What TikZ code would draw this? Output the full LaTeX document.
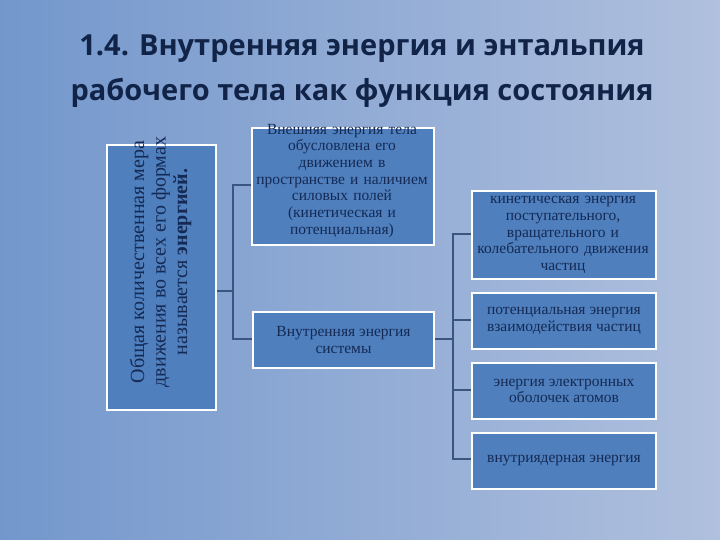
\documentclass[tikz,border=0pt]{standalone}
\usepackage{fontspec}
\setmainfont{Liberation Serif}
\newfontfamily\titlefont{Open Sans}
\begin{document}
\begin{tikzpicture}[x=1pt,y=-1pt,
  box/.style={draw=white,line width=2pt,fill=boxblue,text=txtblue,align=center,inner sep=1pt,font=\fontsize{15.5}{16.7}\selectfont},
  conn/.style={draw=lineblue,line width=1.3pt}]
\definecolor{boxblue}{HTML}{4F7FBD}
\definecolor{txtblue}{HTML}{142A55}
\definecolor{lineblue}{HTML}{3A5580}
\definecolor{bgl}{HTML}{7397CC}
\definecolor{bgr}{HTML}{B0C0DE}
\useasboundingbox (0,0) rectangle (720,540);
\shade[left color=bgl,right color=bgr] (0,0) rectangle (720,540);
\node[font=\titlefont\bfseries\fontsize{29}{45}\selectfont,text=txtblue!85!black,align=center] (title) at (362,71) {1.4. Внутренняя энергия и энтальпия\\рабочего тела как функция состояния};
\node[box,minimum width=109pt,minimum height=265pt,anchor=north west] (L) at (106,144) {};
\node[rotate=90,text=txtblue,align=center,font=\fontsize{20}{21.5}\selectfont] (Lt) at (160.5,262) {Общая количественная мера\\движения во всех его формах\\называется \textbf{энергией.}};
\node[box,minimum width=182pt,minimum height=117pt,anchor=north west] (A) at (251,127) {};
\node[box,draw=none,fill=none,text width=190pt,anchor=north] (At) at (342,122) {Внешняя энергия тела\\обусловлена его\\движением в\\пространстве и наличием\\силовых полей\\(кинетическая и\\потенциальная)};
\node[box,minimum width=181pt,minimum height=56pt,anchor=north west] (B) at (252,311) {Внутренняя энергия\\системы};
\node[box,minimum width=184pt,minimum height=88pt,anchor=north west] (R1) at (471,190) {};
\node[box,draw=none,fill=none,text width=190pt] (R1t) at (563,235) {кинетическая энергия\\поступательного,\\вращательного и\\колебательного движения\\частиц};
\node[box,minimum width=184pt,minimum height=56pt,anchor=north west] (R2) at (471,292) {потенциальная энергия\\взаимодействия частиц};
\node[box,minimum width=184pt,minimum height=56pt,anchor=north west] (R3) at (471,362) {энергия электронных\\оболочек атомов};
\node[box,minimum width=184pt,minimum height=56pt,anchor=north west] (R4) at (471,432) {внутриядерная энергия};
\coordinate (j1) at (233,291);
\coordinate (j2) at (453,339);
\draw[conn] (L.east|-j1) -- (j1);
\draw[conn] (A.west|-0,185) -| (j1) |- (B.west|-0,339);
\draw[conn] (B.east|-j2) -- (j2);
\draw[conn] (j2) |- (R1.west|-0,234);
\draw[conn] (j2) |- (R2.west|-0,320);
\draw[conn] (j2) |- (R3.west|-0,390);
\draw[conn] (j2) |- (R4.west|-0,459);
\end{tikzpicture}
\end{document}
